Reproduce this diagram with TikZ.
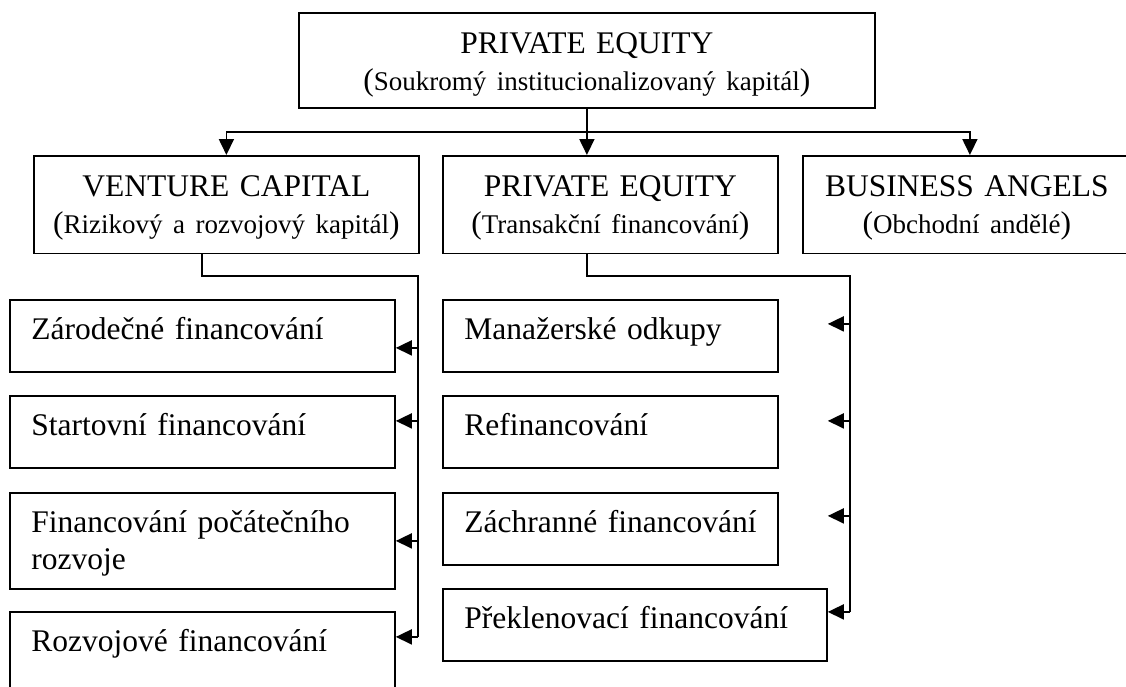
\documentclass[tikz,border=0pt]{standalone}
\usepackage{fontspec}
\setmainfont{Liberation Serif}
\usetikzlibrary{arrows.meta}
\newcommand\Fbig{\fontsize{31.5}{37}\selectfont}
\newcommand\Fsml{\fontsize{27}{37}\selectfont}
\begin{document}
\begin{tikzpicture}[x=1pt,y=-1pt,
  box/.style={draw, line width=1.8pt, inner sep=0pt, anchor=north west},
  head/.style={box, align=center, font=\Fbig, text height=40.5pt},
  sub/.style={box, align=left, font=\Fbig, inner xsep=21.5pt, text height=40pt},
  con/.style={line width=1.8pt},
  arr/.style={con, -{Triangle[length=16pt,width=15pt]}}]
\useasboundingbox (0,0) rectangle (1126,686);
\clip (0,0) rectangle (1126,686);

% header boxes
\node[head, text width=576pt, text depth=54.5pt] (top) at (298,12)
  {PRIVATE EQUITY\\{\Fbig(}{\Fsml Soukromý institucionalizovaný kapitál}{\Fbig)}};
\node[head, text width=385pt, text depth=57pt] (vc) at (33,155)
  {VENTURE CAPITAL\\{\Fbig(}{\Fsml Rizikový a rozvojový kapitál}{\Fbig)}};
\node[head, text width=335pt, text depth=57pt] (pe) at (442,155)
  {PRIVATE EQUITY\\{\Fbig(}{\Fsml Transakční financování}{\Fbig)}};
\node[head, text width=328pt, text depth=57pt] (ba) at (802,155)
  {BUSINESS ANGELS\\{\Fbig(}{\Fsml Obchodní andělé}{\Fbig)}};

% left column
\node[sub, text width=342pt, text depth=32pt] (zar) at (9,299) {\mbox{Zárodečné financování}};
\node[sub, text width=342pt, text depth=32pt] (start) at (9,395) {\mbox{Startovní financování}};
\node[sub, text width=342pt, text depth=56pt] (pocat) at (9,492) {\mbox{Financování počátečního}\\rozvoje};
\node[sub, text width=342pt, text depth=56pt] (rozv) at (9,611) {\mbox{Rozvojové financování}};

% right column
\node[sub, text width=292pt, text depth=32pt] (man) at (442,299) {\mbox{Manažerské odkupy}};
\node[sub, text width=292pt, text depth=32pt] (refi) at (442,395) {\mbox{Refinancování}};
\node[sub, text width=292pt, text depth=32pt] (zach) at (442,492) {\mbox{Záchranné financování}};
\node[sub, text width=341pt, text depth=32pt] (prek) at (442,588) {\mbox{Překlenovací financování}};

% top level connectors
\draw[arr] (top.south) -- (top.south |- pe.north);
\coordinate (j) at (586,132);
\draw[arr] (j) -| (vc.north);
\draw[arr] (j) -| ([xshift=3pt]ba.north);

% venture capital bus
\coordinate (vcs) at ([xshift=169pt]vc.south west);
\coordinate (vcbus) at (418,276);
\coordinate (az) at ([yshift=-12pt]zar.east);
\coordinate (as) at ([yshift=11pt]start.east);
\coordinate (ap) at (pocat.east);
\coordinate (ar) at ([yshift=23pt]rozv.east);
\draw[con] (vcs) |- (vcbus) -- (vcbus |- ar);
\draw[arr] (vcbus |- az) -- (az);
\draw[arr] (vcbus |- as) -- (as);
\draw[arr] (vcbus |- ap) -- (ap);
\draw[arr] (vcbus |- ar) -- (ar);

% private equity bus
\coordinate (pbus) at (850,276);
\coordinate (m1) at ([yshift=12pt]man.east);
\coordinate (m2) at ([yshift=11pt]refi.east);
\coordinate (m3) at ([yshift=13pt]zach.east);
\coordinate (m4) at ([yshift=13pt]prek.east);
\coordinate (bm) at (m1 -| prek.east);
\coordinate (br) at (m2 -| prek.east);
\coordinate (bz) at (m3 -| prek.east);
\draw[con] (top.south |- pe.south) |- (pbus) -- (pbus |- m4);
\draw[arr] (pbus |- bm) -- (bm);
\draw[arr] (pbus |- br) -- (br);
\draw[arr] (pbus |- bz) -- (bz);
\draw[arr] (pbus |- m4) -- (m4);
\end{tikzpicture}
\end{document}
